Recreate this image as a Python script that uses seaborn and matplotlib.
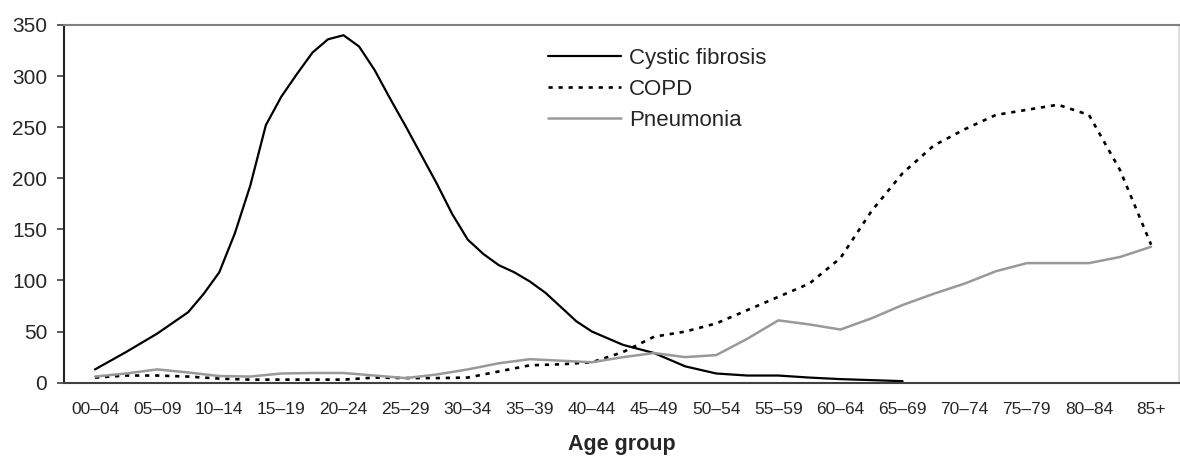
import numpy as np
import matplotlib
matplotlib.use("Agg")
import matplotlib.pyplot as plt
import seaborn as sns

sns.set_theme(style="white")
plt.rcParams["font.family"] = ["Liberation Sans", "DejaVu Sans"]

# age groups on the x axis
age_groups = ["00\u201304", "05\u201309", "10\u201314", "15\u201319", "20\u201324", "25\u201329",
              "30\u201334", "35\u201339", "40\u201344", "45\u201349", "50\u201354", "55\u201359",
              "60\u201364", "65\u201369", "70\u201374", "75\u201379", "80\u201384", "85+"]

# cystic fibrosis read more densely around the peak (x in age-group index)
cf_x = [0, 0.5, 1, 1.5, 1.75, 2, 2.25, 2.5, 2.75, 3, 3.25, 3.5, 3.75, 4, 4.25,
        4.5, 4.75, 5, 5.25, 5.5, 5.75, 6, 6.25, 6.5, 6.75, 7, 7.25, 7.5, 7.75,
        8, 8.5, 9, 9.5, 10, 10.5, 11, 11.5, 12, 12.5, 13]
cystic_fibrosis = [13, 30, 48, 69, 87, 108, 146, 193, 252, 280, 302, 323, 336, 340, 329,
                   306, 278, 251, 223, 195, 165, 140, 126, 115, 108, 99, 88, 74, 60,
                   50, 37, 29, 16, 9, 7, 7, 5, 3.5, 2.5, 1.5]

# the other two curves read every half age group
half_x = list(np.arange(0, 17.01, 0.5))
copd = [5, 7, 7, 6, 4, 3, 3, 3, 3, 5, 4.5, 4.5, 5, 11, 17, 18, 20, 30,
        45, 50, 58, 71, 84, 97, 122, 168, 205, 232, 248, 262, 267, 272, 262, 208, 135]
pneumonia = [6, 9, 13, 10, 6.5, 6, 9, 9.5, 9.5, 7, 4.5, 8, 13, 19, 23, 21.5, 20, 25,
             29, 25, 27, 43, 61, 57, 52, 63, 76, 87, 97, 109, 117, 117, 117, 123, 133]

fig = plt.figure(figsize=(11.8, 4.57), dpi=100)
ax = fig.add_axes([0.0542, 0.1626, 0.9450, 0.7827])

sns.lineplot(x=cf_x, y=cystic_fibrosis, ax=ax, color="black", linewidth=1.6,
             label="Cystic fibrosis")
sns.lineplot(x=half_x, y=copd, ax=ax, color="black", linewidth=1.9,
             linestyle=(0, (1.6, 2.2)), label="COPD")
sns.lineplot(x=half_x, y=pneumonia, ax=ax, color="#999999", linewidth=1.8,
             label="Pneumonia")

ax.set_xlim(-0.5, 17.45)
ax.set_ylim(0, 350)
ax.set_yticks(range(0, 351, 50))
ax.set_xticks(range(len(age_groups)))
ax.set_xticklabels(age_groups, fontsize=12.5)
ax.tick_params(axis="y", labelsize=15, length=5, width=1.2, color="#404040",
               direction="out", left=True, pad=7)
ax.tick_params(axis="x", length=0, pad=14)
ax.set_xlabel("Age group", fontsize=15.5, fontweight="bold", labelpad=12)
ax.set_ylabel("")

for side, col in [("left", "#222222"), ("bottom", "#404040"),
                  ("top", "#808080"), ("right", "#e0e0e0")]:
    ax.spines[side].set_visible(True)
    ax.spines[side].set_color(col)
    ax.spines[side].set_linewidth(1.5)

ax.legend(loc="upper left", bbox_to_anchor=(0.434, 0.935), frameon=False,
          fontsize=16, handlelength=3.3, handletextpad=0.35, labelspacing=0.45,
          borderpad=0, borderaxespad=0)

fig.savefig("out.png", dpi=100)
